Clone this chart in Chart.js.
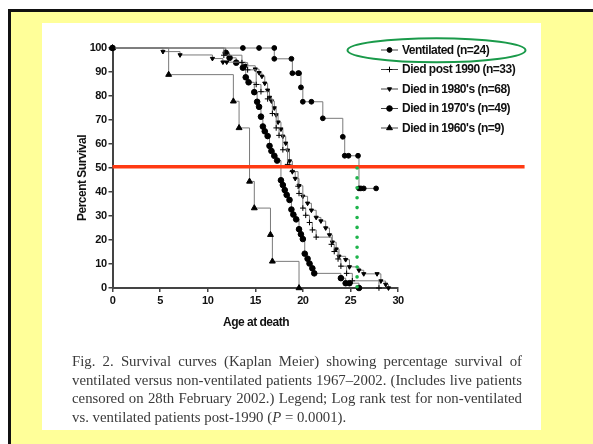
<!DOCTYPE html>
<html lang="en">
<head>
  <meta charset="UTF-8">
  <title>Survival curves (Kaplan Meier)</title>
  <script src="https://cdn.jsdelivr.net/npm/chart.js"></script>
  <style>
    html, body {
      margin: 0;
      overflow: hidden;
    }
    body {
      background: #fff;
      width: 593px;
      height: 444px;
      position: relative;
    }
    #yellow {
      position: absolute;
      left: 8px;
      top: 9px;
      right: 0;
      bottom: 0;
      background: #ffff99;
    }
    #edgeTop {
      position: absolute;
      left: 8px;
      top: 9px;
      right: 0;
      height: 3px;
      background: #111;
    }
    #edgeLeft {
      position: absolute;
      left: 8px;
      top: 9px;
      bottom: 0;
      width: 3px;
      background: #111;
    }
    #panel {
      position: absolute;
      left: 42px;
      top: 23px;
      width: 499px;
      height: 407px;
      background: #fff;
    }
    #chart {
      position: absolute;
      left: 0;
      top: 0;
    }
    .caption {
      position: absolute;
      left: 72px;
      top: 352px;
      width: 450px;
      font-family: "Liberation Serif", "Times New Roman", serif;
      font-size: 14.8px;
      line-height: 18.7px;
      color: #3a3a3a;
    }
    .caption div {
      white-space: nowrap;
      text-align: justify;
      text-align-last: justify;
    }
    .caption div.last {
      text-align-last: left;
    }
  </style>
</head>
<body>
  <div id="yellow"></div>
  <div id="edgeTop"></div>
  <div id="edgeLeft"></div>
  <div id="panel"></div>
  <canvas id="chart" width="593" height="444"></canvas>
  <div class="caption">
    <div>Fig. 2. Survival curves (Kaplan Meier) showing percentage survival of</div>
    <div>ventilated versus non-ventilated patients 1967–2002. (Includes live patients</div>
    <div>censored on 28th February 2002.) Legend; Log rank test for non-ventilated</div>
    <div class="last">vs. ventilated patients post-1990 (<i>P</i> = 0.0001).</div>
  </div>

  <script>
    // series labels (legend order)
    const seriesLabels = ['Ventilated (n=24)', 'Died post 1990 (n=33)', "Died in 1980's (n=68)", "Died in 1970's (n=49)", "Died in 1960's (n=9)"];

    // age at death / percent survival
    const ventAge  = [0, 13.7, 15.4, 17.0, 17.0, 18.8, 18.9, 19.5, 19.6, 19.8, 20.0, 20.9, 22.1, 24.2, 24.4, 24.8, 25.8, 25.9, 26.1, 26.4, 27.7];
    const ventSurv = [100, 100, 100, 100, 95.5, 95.5, 89.5, 89.5, 89.5, 83.6, 77.6, 77.6, 70.7, 63.0, 55.1, 55.1, 55.1, 41.5, 41.5, 41.5, 41.5];

    const post90Age  = [0, 11.7, 13.6, 14.2, 15.1, 15.6, 16.3, 16.8, 17.2, 17.5, 17.9, 18.4, 18.9, 19.5, 19.6, 20.0, 20.3, 20.7, 21.0, 21.4, 23.0, 23.3, 23.7, 24.0, 24.6, 25.2, 28.0];
    const post90Surv = [100, 97.0, 93.9, 90.9, 84.8, 81.8, 78.8, 72.7, 66.7, 63.6, 57.6, 51.5, 48.5, 42.4, 39.4, 33.3, 30.3, 27.3, 24.2, 21.2, 18.2, 15.2, 12.1, 9.1, 6.1, 3.0, 0];

    const age80  = [0, 5.3, 7.1, 10.5, 11.6, 12.0, 14.0, 15.0, 15.4, 15.7, 16.0, 16.3, 16.5, 16.7, 17.0, 17.2, 17.4, 17.7, 17.9, 18.2, 18.4, 18.6, 18.9, 19.2, 19.6, 20.0, 20.5, 20.9, 21.4, 21.9, 22.4, 22.8, 23.1, 23.5, 23.8, 24.5, 24.9, 25.9, 26.4, 27.8, 28.2, 28.7, 29.0];
    const surv80 = [100, 98.5, 97.1, 95.6, 94.1, 94.1, 92.6, 91.2, 89.7, 88.2, 85.3, 82.4, 79.4, 77.9, 75.0, 72.1, 69.1, 66.2, 63.2, 60.3, 57.4, 52.9, 48.5, 45.6, 42.6, 38.2, 35.3, 32.4, 29.4, 27.9, 25.0, 22.1, 19.1, 16.2, 13.2, 11.8, 8.8, 7.4, 5.9, 5.9, 2.9, 1.5, 0];

    const age70  = [0, 11.9, 12.3, 13.0, 13.7, 14.0, 14.3, 14.9, 15.2, 15.4, 15.6, 15.8, 16.0, 16.3, 16.5, 16.7, 17.0, 17.3, 17.7, 17.9, 18.1, 18.3, 18.6, 18.8, 19.0, 19.3, 19.6, 19.8, 20.0, 20.2, 20.5, 20.7, 21.0, 21.2, 24.0, 24.5, 24.9, 25.9];
    const surv70 = [100, 98.0, 95.9, 93.9, 91.8, 87.8, 85.7, 81.6, 77.6, 75.5, 71.4, 67.3, 65.3, 63.3, 59.2, 57.1, 55.1, 53.1, 44.9, 42.9, 40.8, 38.8, 36.7, 32.7, 30.6, 28.6, 24.5, 22.4, 20.4, 14.3, 12.2, 10.2, 8.2, 6.1, 4.1, 2.0, 2.0, 0];

    const age60  = [0, 5.9, 12.7, 13.3, 14.4, 14.9, 16.6, 16.8, 19.6];
    const surv60 = [100, 88.9, 77.8, 66.7, 44.4, 33.3, 22.2, 11.1, 0];

    // reference lines: 50% survival and median age of ventilated group
    const halfLineY = 50.5;
    const halfLineEndX = 43.3;
    const medianAge = 25.7;

    const xTicks = [0, 5, 10, 15, 20, 25, 30];
    const yTicks = [0, 10, 20, 30, 40, 50, 60, 70, 80, 90, 100];

    const pts = (xs, ys) => xs.map((x, i) => ({ x: x, y: ys[i] }));

    const fontFamily = '"Liberation Sans", Arial, sans-serif';
    const lineGray = '#7a7a7a';

    function curve(label, xs, ys, style, radius, rotation) {
      return {
        label: label,
        data: pts(xs, ys),
        stepped: true,
        borderColor: lineGray,
        borderWidth: 1,
        pointStyle: style,
        pointRadius: radius,
        pointRotation: rotation || 0,
        pointBackgroundColor: '#000',
        pointBorderColor: '#000',
        pointBorderWidth: 1,
        clip: false
      };
    }

    const curves = [
      curve(seriesLabels[0], ventAge, ventSurv, 'circle', 2.4),
      curve(seriesLabels[1], post90Age, post90Surv, 'cross', 2.8),
      curve(seriesLabels[2], age80, surv80, 'triangle', 2.4, 180),
      curve(seriesLabels[3], age70, surv70, 'circle', 2.8),
      curve(seriesLabels[4], age60, surv60, 'triangle', 3.4)
    ];

    // extra drawing: axis titles, legend, green ellipse
    const overlay = {
      id: 'overlay',
      beforeLayout(chart) { chart.ctx.letterSpacing = '-0.5px'; },
      beforeDraw(chart) { chart.ctx.letterSpacing = '-0.5px'; },
      afterDraw(chart) {
        const ctx = chart.ctx;
        ctx.save();
        ctx.letterSpacing = '-0.5px';
        ctx.fillStyle = '#111';
        ctx.font = 'bold 12px ' + fontFamily;
        ctx.textAlign = 'center';
        ctx.textBaseline = 'middle';
        ctx.fillText('Age at death', 256, 323);
        ctx.save();
        ctx.translate(83, 178);
        ctx.rotate(-Math.PI / 2);
        ctx.fillText('Percent Survival', 0, 0);
        ctx.restore();

        // legend
        ctx.font = 'bold 12px ' + fontFamily;
        ctx.textAlign = 'left';
        curves.forEach((ds, i) => {
          const y = 50 + i * 19.5;
          ctx.strokeStyle = '#444';
          ctx.lineWidth = 1;
          ctx.beginPath();
          ctx.moveTo(381, y);
          ctx.lineTo(398, y);
          ctx.stroke();
          ctx.fillStyle = '#000';
          ctx.strokeStyle = '#000';
          Chart.helpers.drawPoint(ctx, {
            pointStyle: ds.pointStyle,
            radius: ds.pointRadius,
            rotation: ds.pointRotation,
            borderWidth: 1
          }, 389.5, y);
          ctx.fillStyle = '#111';
          ctx.fillText(ds.label, 402, y + 0.5);
        });

        // green ellipse round the ventilated entry
        ctx.strokeStyle = '#1a9a4a';
        ctx.lineWidth = 2;
        ctx.beginPath();
        ctx.ellipse(436.5, 50.3, 89, 12, 0, 0, Math.PI * 2);
        ctx.stroke();
        ctx.restore();
      }
    };

    new Chart(document.getElementById('chart'), {
      type: 'line',
      data: {
        datasets: [
          {
            label: 'median',
            data: [{ x: medianAge, y: 50 }, { x: medianAge, y: 0 }],
            borderColor: '#1eb44b',
            borderWidth: 3.6,
            borderDash: [0.001, 9.9],
            borderCapStyle: 'round',
            pointRadius: 0,
            clip: false
          },
          {
            label: 'half',
            data: [{ x: 0, y: halfLineY }, { x: halfLineEndX, y: halfLineY }],
            borderColor: '#ff3a12',
            borderWidth: 3.4,
            pointRadius: 0,
            clip: false
          },
          ...curves
        ]
      },
      options: {
        responsive: false,
        animation: false,
        devicePixelRatio: 1,
        layout: { padding: { top: 48, right: 195, left: 0, bottom: 0 } },
        plugins: {
          legend: { display: false },
          tooltip: { enabled: false }
        },
        scales: {
          x: {
            type: 'linear',
            min: 0,
            max: 30,
            afterBuildTicks: s => { s.ticks = xTicks.map(v => ({ value: v })); },
            afterFit: s => { s.height = 444 - 288; },
            ticks: {
              color: '#111',
              padding: 2,
              maxRotation: 0,
              font: { family: fontFamily, size: 11, weight: 'bold' }
            },
            grid: { drawOnChartArea: false, drawTicks: true, tickLength: 4, color: '#444', lineWidth: 1.5 },
            border: { color: '#444', width: 2 }
          },
          y: {
            min: 0,
            max: 100,
            afterBuildTicks: s => { s.ticks = yTicks.map(v => ({ value: v })); },
            afterFit: s => { s.width = 112.5; },
            ticks: {
              color: '#111',
              padding: 2,
              font: { family: fontFamily, size: 11, weight: 'bold' }
            },
            grid: { drawOnChartArea: false, drawTicks: true, tickLength: 4, color: '#444', lineWidth: 1.5 },
            border: { color: '#444', width: 2 }
          }
        }
      },
      plugins: [overlay]
    });
  </script>
</body>
</html>
